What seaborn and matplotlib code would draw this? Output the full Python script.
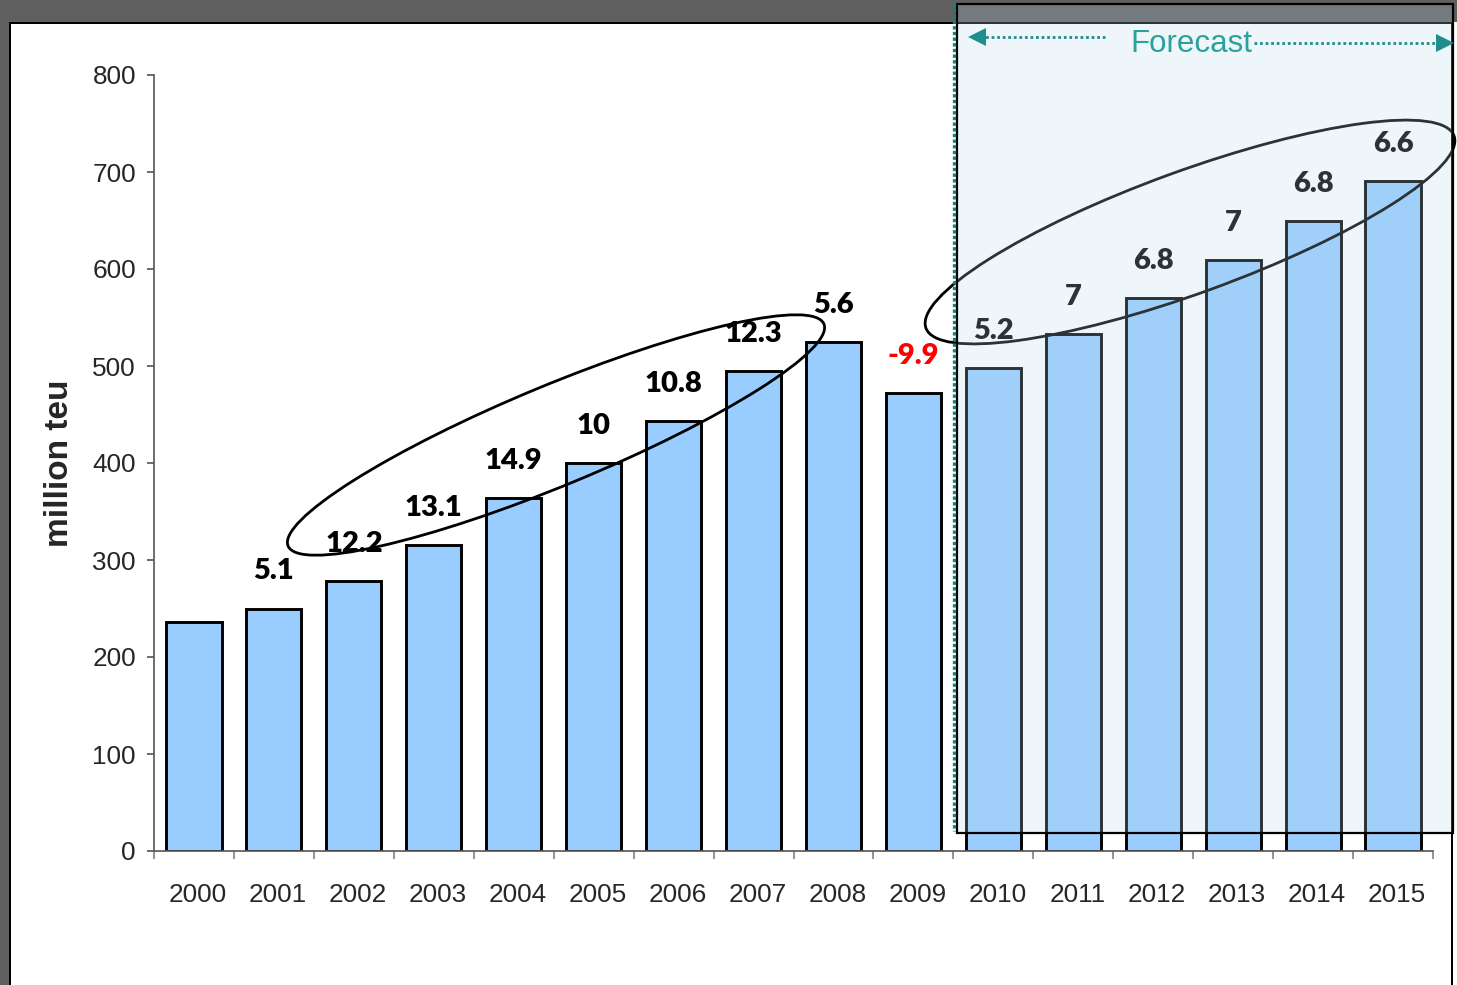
import numpy as np
import pandas as pd
import matplotlib
matplotlib.use("Agg")
import matplotlib.pyplot as plt
import matplotlib.patches as mpatches
import matplotlib.transforms as mtransforms
from matplotlib.lines import Line2D
import seaborn as sns

# Container port throughput (million TEU) and annual growth (%)
years = [str(y) for y in range(2000, 2016)]
throughput = [236, 250, 278, 315, 364, 400, 443, 495, 525, 472,
              498, 533, 570, 609, 649, 691]
growth = [None, 5.1, 12.2, 13.1, 14.9, 10, 10.8, 12.3, 5.6, -9.9,
          5.2, 7, 6.8, 7, 6.8, 6.6]
y_ticks = [0, 100, 200, 300, 400, 500, 600, 700, 800]
y_label = "million teu"
forecast_label = "Forecast"
forecast_from = "2010"

W, H = 1457, 985

sns.set_style("white")
plt.rcParams["font.family"] = ["Liberation Sans", "DejaVu Sans"]

fig = plt.figure(figsize=(W / 100, H / 100), dpi=100, facecolor="white")
ax = fig.add_axes([154 / W, 1 - 851 / H, (1433 - 154) / W, (851 - 75) / H])
ax.patch.set_visible(False)

df = pd.DataFrame({"year": years, "teu": throughput})
sns.barplot(data=df, x="year", y="teu", color="#99CCFF", saturation=1,
            edgecolor="black", linewidth=2.1, width=0.69, ax=ax, zorder=2)

n = len(years)
ax.set_xlim(-0.5, n - 0.5)
ax.set_ylim(y_ticks[0], y_ticks[-1])
ax.set_yticks(y_ticks)
ax.set_yticklabels([str(t) for t in y_ticks])
ax.tick_params(axis="y", direction="out", length=5, width=1.1,
               color="#444444", pad=8, labelsize=18.8, left=True)

# major ticks between categories, labels on minor ticks at bar centres
ax.set_xticks(np.arange(n + 1) - 0.5)
ax.set_xticklabels([])
ax.set_xticks(np.arange(n), minor=True)
ax.set_xticklabels(years, minor=True)
ax.tick_params(axis="x", which="major", direction="out", length=6,
               width=1.1, color="#777777", bottom=True)
ax.tick_params(axis="x", which="minor", length=0, pad=23, labelsize=18.8)
nudge = mtransforms.ScaledTranslation(4 / 100, 0, fig.dpi_scale_trans)
for lab in ax.xaxis.get_minorticklabels():
    lab.set_transform(lab.get_transform() + nudge)

sns.despine(ax=ax)
for side in ("left", "bottom"):
    ax.spines[side].set_color("#555555")
    ax.spines[side].set_linewidth(1.2)

ax.set_xlabel("")
ax.set_ylabel(y_label, fontsize=24, fontweight="bold", va="center")
ax.yaxis.set_label_coords((60 - 154) / (1433 - 154), 0.5)

# growth-rate labels above bars
for i, (v, g) in enumerate(zip(throughput, growth)):
    if g is None:
        continue
    ax.annotate(f"{g:g}", (i, v), xytext=(0, 21), textcoords="offset points",
                ha="center", va="baseline", fontsize=21, fontweight="heavy",
                family=["Lato", "DejaVu Sans"],
                color="#FF0000" if g < 0 else "black", zorder=4)

# pixel-space transform for page decorations
px = mtransforms.Affine2D().scale(1 / W, -1 / H).translate(0, 1) + fig.transFigure

page_grey = "#5F5F5F"
fig.add_artist(mpatches.Rectangle((0, 0), W, 22, transform=px,
                                  facecolor=page_grey, edgecolor="none", zorder=-5))
fig.add_artist(mpatches.Rectangle((0, 0), 9, H, transform=px,
                                  facecolor=page_grey, edgecolor="none", zorder=-5))
for rect in [(9, 22, 1453 - 9, 2.2), (9, 22, 2.2, H), (1451, 22, 2.2, H)]:
    fig.add_artist(mpatches.Rectangle(rect[:2], rect[2], rect[3], transform=px,
                                      facecolor="black", edgecolor="none", zorder=-4))

# highlight ellipses around growth labels
fig.add_artist(mpatches.Ellipse((556, 435), 580, 100, angle=-22.5, transform=px,
                                fill=False, edgecolor="black", linewidth=2.0, zorder=1))
fig.add_artist(mpatches.Ellipse((1190, 232), 562, 122, angle=-20, transform=px,
                                fill=False, edgecolor="black", linewidth=2.0, zorder=1))

# forecast region
box_x0 = ax.transData.transform((years.index(forecast_from) - 0.46, 0))[0]
fig.add_artist(mpatches.Rectangle((box_x0, 4), 1453 - box_x0, 833 - 4, transform=px,
                                  facecolor=(183 / 255, 217 / 255, 230 / 255, 0.235),
                                  edgecolor="black", linewidth=1.6, zorder=2))
fig.add_artist(Line2D([box_x0 - 2.5, box_x0 - 2.5], [3, 831], transform=px,
                      color="#137F7F", linewidth=2.4, linestyle=(0, (1, 0.7)),
                      solid_capstyle="butt", zorder=3))

teal = "#1E8F8C"
fig.add_artist(Line2D([1105, 982], [37, 37], transform=px, color=teal,
                      linewidth=2.0, linestyle=(0, (1, 1)), zorder=3))
fig.add_artist(Line2D([977], [37], transform=px, color=teal, marker="<",
                      markersize=12.5, markeredgewidth=0, linestyle="none", zorder=3))
fig.add_artist(Line2D([1254, 1440], [43, 43], transform=px, color=teal,
                      linewidth=2.0, linestyle=(0, (1, 1)), zorder=3))
fig.add_artist(Line2D([1445], [43], transform=px, color=teal, marker=">",
                      markersize=12.5, markeredgewidth=0, linestyle="none", zorder=3))
fig.text(1191 / W, 1 - 44 / H, forecast_label, ha="center", va="center",
         fontsize=22.5, color="#2AA19C", zorder=3)

fig.savefig("out.png", dpi=100)
